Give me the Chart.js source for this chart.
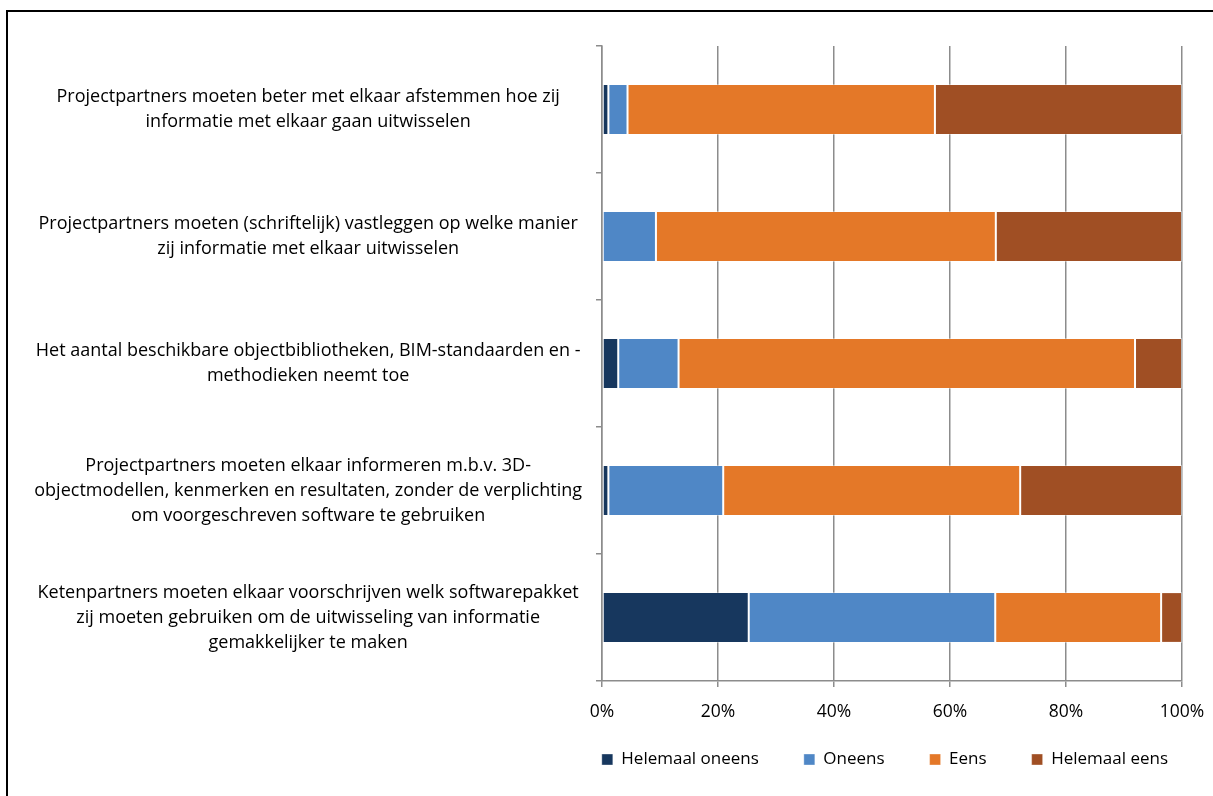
<!DOCTYPE html>
<html>
<head>
<meta charset="utf-8">
<script src="https://cdn.jsdelivr.net/npm/chart.js@4/dist/chart.umd.min.js"></script>
<style>
  html, body { margin: 0; padding: 0; background: #fff; overflow: hidden; }
  #frame {
    position: absolute; left: 6px; top: 10px; width: 1220px; height: 800px;
    border-left: 2px solid #000; border-top: 2px solid #000;
  }
  #wrap { position: absolute; left: 0; top: 0; width: 1213px; height: 796px; }
</style>
</head>
<body>
<div id="frame"></div>
<div id="wrap"><canvas id="chart" width="1213" height="796"></canvas></div>
<script>
// stellingen (y-as), in regels opgesplitst
const stellingen = [
    ['Projectpartners moeten beter met elkaar afstemmen hoe zij', 'informatie met elkaar gaan uitwisselen'],
    ['Projectpartners moeten (schriftelijk) vastleggen op welke manier', 'zij informatie met elkaar uitwisselen'],
    ['Het aantal beschikbare objectbibliotheken, BIM-standaarden en -', 'methodieken neemt toe'],
    ['Projectpartners moeten elkaar informeren m.b.v. 3D-', 'objectmodellen, kenmerken en resultaten, zonder de verplichting', 'om voorgeschreven software te gebruiken'],
    ['Ketenpartners moeten elkaar voorschrijven welk softwarepakket', 'zij moeten gebruiken om de uitwisseling van informatie', 'gemakkelijker te maken']
];

// percentages per antwoord
const helemaalOneens = [1.1, 0.0, 2.8, 1.1, 25.3];
const oneens         = [3.3, 9.3, 10.4, 19.8, 42.5];
const eens           = [53.0, 58.6, 78.7, 51.2, 28.6];
const helemaalEens   = [42.6, 32.1, 8.1, 27.9, 3.6];

const xTicks = [0, 20, 40, 60, 80, 100];

const FONT = '"Open Sans", Lato, sans-serif';
const grijs = '#8c8c8c';

function reeks(label, data, kleur) {
    return {
        label: label,
        data: data,
        backgroundColor: kleur,
        borderColor: 'rgba(255,255,255,0.35)',
        borderWidth: 1,
        borderSkipped: false,
        barPercentage: 0.4,
        categoryPercentage: 1
    };
}

// legenda dichter onder de as zetten (padding van de labels is ruim)
const legendaOmhoog = {
    id: 'legendaOmhoog',
    afterLayout(chart) {
        chart.legend.top -= 32;
        chart.legend.bottom -= 32;
    }
};

const ctx = document.getElementById('chart').getContext('2d');
new Chart(ctx, {
    type: 'bar',
    data: {
        labels: stellingen,
        datasets: [
            reeks('Helemaal oneens', helemaalOneens, '#17375E'),
            reeks('Oneens', oneens, '#4F87C6'),
            reeks('Eens', eens, '#E47828'),
            reeks('Helemaal eens', helemaalEens, '#A04F24')
        ]
    },
    plugins: [legendaOmhoog],
    options: {
        indexAxis: 'y',
        responsive: false,
        animation: false,
        layout: { padding: { left: 0, right: 0, top: 46, bottom: -14 } },
        plugins: {
            tooltip: { enabled: false },
            legend: {
                position: 'bottom',
                align: 'end',
                labels: {
                    boxWidth: 11,
                    boxHeight: 11,
                    padding: 45,
                    color: '#000',
                    font: { family: FONT, size: 17 }
                }
            }
        },
        scales: {
            x: {
                stacked: true,
                min: 0,
                max: 100,
                afterBuildTicks: function(scale) {
                    scale.ticks = xTicks.map(v => ({ value: v }));
                },
                afterFit: function(scale) {
                    scale.paddingRight = 31;
                },
                ticks: {
                    callback: v => v + '%',
                    color: '#000',
                    padding: 15,
                    maxRotation: 0,
                    font: { family: FONT, size: 17.5 }
                },
                grid: { color: grijs, lineWidth: 1.5, tickLength: 6 },
                border: { color: grijs, width: 1.5 }
            },
            y: {
                stacked: true,
                afterFit: function(scale) {
                    scale.width = 602;
                    scale.paddingTop = 0;
                    scale.paddingBottom = 0;
                },
                ticks: {
                    crossAlign: 'center',
                    color: '#000',
                    padding: 14,
                    autoSkip: false,
                    font: { family: FONT, size: 18, lineHeight: 25 / 18 }
                },
                grid: { color: grijs, lineWidth: 1.5, drawOnChartArea: false, tickLength: 6, offset: true },
                border: { color: grijs, width: 1.5 }
            }
        }
    }
});
</script>
</body>
</html>
